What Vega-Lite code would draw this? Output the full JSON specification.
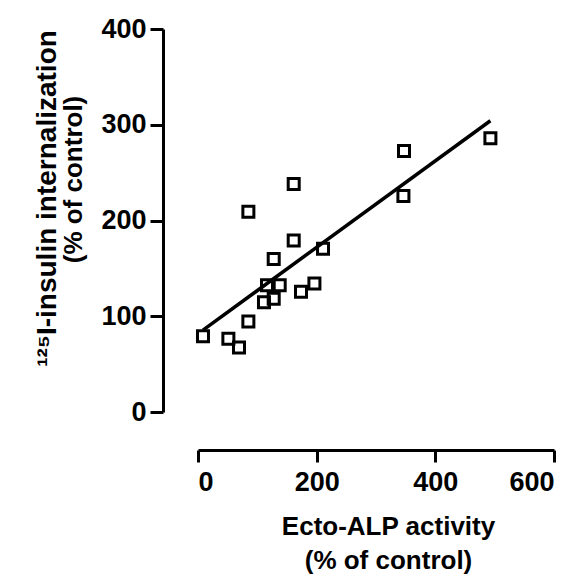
{
  "$schema": "https://vega.github.io/schema/vega-lite/v6.json",
  "width": 356,
  "height": 383,
  "autosize": "none",
  "padding": {"left": 198, "top": 29, "right": 27, "bottom": 167},
  "background": "white",
  "config": {"view": {"stroke": null}, "font": "Liberation Sans"},
  "datasets": {
    "points": [
      {"alp": 8.4, "insulin": 79.1},
      {"alp": 51.2, "insulin": 76.4},
      {"alp": 69.1, "insulin": 67.3},
      {"alp": 84.9, "insulin": 94.4},
      {"alp": 84.9, "insulin": 209.1},
      {"alp": 111.2, "insulin": 114.5},
      {"alp": 116.3, "insulin": 132.3},
      {"alp": 127.6, "insulin": 118.4},
      {"alp": 127.6, "insulin": 159.8},
      {"alp": 137.7, "insulin": 132.3},
      {"alp": 161.3, "insulin": 238.0},
      {"alp": 161.3, "insulin": 179.2},
      {"alp": 173.6, "insulin": 125.7},
      {"alp": 196.2, "insulin": 134.3},
      {"alp": 210.7, "insulin": 170.5},
      {"alp": 346.2, "insulin": 225.5},
      {"alp": 347.2, "insulin": 272.7},
      {"alp": 492.8, "insulin": 286.0}
    ],
    "fit": [
      {"alp": 8.4, "insulin": 85.5},
      {"alp": 492.8, "insulin": 304.2}
    ]
  },
  "resolve": {"axis": {"y": "independent"}},
  "layer": [
    {
      "data": {"name": "fit"},
      "mark": {"type": "line", "color": "black", "strokeWidth": 3.5},
      "encoding": {
        "x": {"field": "alp", "type": "quantitative"},
        "y": {
          "field": "insulin", "type": "quantitative",
          "axis": {
            "orient": "left", "offset": 35, "domain": false, "ticks": false, "labels": false, "grid": false,
            "title": "¹²⁵I-insulin internalization",
            "titleFontSize": 28, "titleFontWeight": "bold", "titleColor": "black",
            "titleBaseline": "alphabetic", "titleAngle": 270, "titleAlign": "center",
            "titleX": -108, "titleY": 169
          }
        }
      }
    },
    {
      "data": {"name": "points"},
      "mark": {"type": "point", "shape": "square", "filled": false, "stroke": "black", "strokeWidth": 3, "size": 121, "opacity": 1},
      "encoding": {
        "x": {
          "field": "alp", "type": "quantitative",
          "scale": {"domain": [0, 600], "nice": false, "zero": false},
          "axis": {
            "values": [0, 200, 400, 600], "grid": false, "offset": 38,
            "domainColor": "black", "domainWidth": 3, "tickColor": "black", "tickWidth": 3, "tickSize": 12,
            "labelFontSize": 27, "labelFontWeight": "bold", "labelColor": "black", "labelPadding": 7,
            "title": ["Ecto-ALP activity", "(% of control)"],
            "titleFontSize": 26, "titleFontWeight": "bold", "titleColor": "black", "titleLineHeight": 34,
            "titleBaseline": "alphabetic", "titleAlign": "center", "titleX": 190, "titleY": 84
          }
        },
        "y": {
          "field": "insulin", "type": "quantitative",
          "scale": {"domain": [0, 400], "nice": false, "zero": false},
          "axis": {
            "orient": "left",
            "values": [0, 100, 200, 300, 400], "grid": false, "offset": 35,
            "domainColor": "black", "domainWidth": 3, "tickColor": "black", "tickWidth": 3, "tickSize": 13,
            "labelFontSize": 27, "labelFontWeight": "bold", "labelColor": "black", "labelPadding": 4,
            "title": "(% of control)",
            "titleFontSize": 26, "titleFontWeight": "bold", "titleColor": "black",
            "titleBaseline": "alphabetic", "titleAngle": 270, "titleAlign": "center",
            "titleX": -82, "titleY": 150
          }
        }
      }
    }
  ]
}
